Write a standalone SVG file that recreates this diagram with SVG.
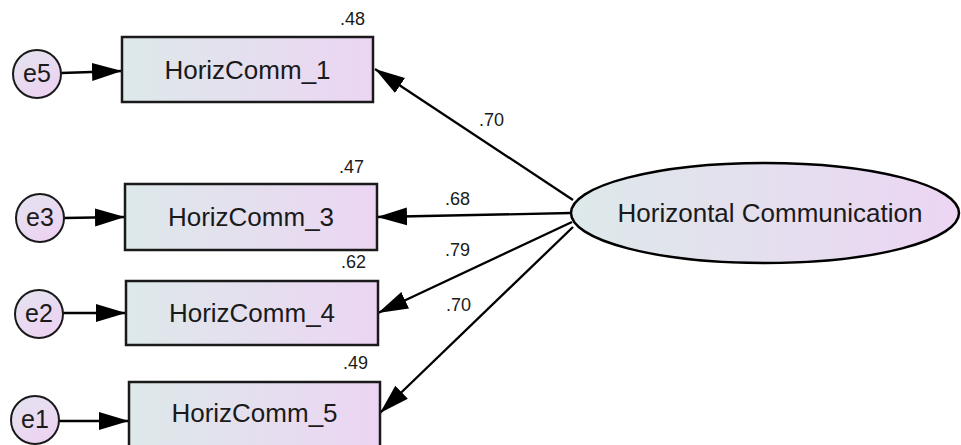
<svg xmlns="http://www.w3.org/2000/svg" width="961" height="445" viewBox="0 0 961 445">
<defs>
<linearGradient id="g" x1="0" y1="0" x2="1" y2="0">
<stop offset="0" stop-color="#dde9ea"/>
<stop offset="1" stop-color="#ecd5f3"/>
</linearGradient>
<linearGradient id="gc" x1="0" y1="0" x2="0.6" y2="1">
<stop offset="0" stop-color="#e4e4ef"/>
<stop offset="1" stop-color="#ecd3f2"/>
</linearGradient>
<marker id="ah" markerUnits="userSpaceOnUse" markerWidth="34" markerHeight="22" refX="30" refY="10" orient="auto">
<path d="M0,1 L30,10 L0,19 Z" fill="#000"/>
</marker>
<style>
.box{fill:url(#g);stroke:#1a1a1a;stroke-width:2.5}
.err{fill:url(#gc);stroke:#1a1a1a;stroke-width:2}
.lat{fill:url(#g);stroke:#000;stroke-width:2.5}
.t{font-family:"Liberation Sans",Arial,sans-serif;fill:#1a1a1a}
.big{font-size:26px;text-anchor:middle}
.e{font-size:25px;text-anchor:middle}
.n{font-size:18px}
.r{text-anchor:end}
.c line{stroke:#000;stroke-width:2.3;marker-end:url(#ah)}
</style>
</defs>
<g id="connectors" class="c">
<line x1="61" y1="73" x2="122" y2="71"/>
<line x1="64" y1="218" x2="125" y2="217"/>
<line x1="63" y1="313" x2="126" y2="313"/>
<line x1="59" y1="421" x2="129" y2="421"/>
<line x1="573" y1="200" x2="375" y2="69"/>
<line x1="571" y1="213" x2="377" y2="217"/>
<line x1="572" y1="222" x2="378" y2="313"/>
<line x1="573" y1="227" x2="380" y2="413"/>
</g>
<g id="labels-paths">
<text class="t n" x="479" y="126">.70</text>
<text class="t n" x="445" y="205">.68</text>
<text class="t n" x="445" y="256">.79</text>
<text class="t n" x="446" y="311">.70</text>
</g>
<g id="HorizComm_1">
<rect class="box" x="122" y="37" width="251" height="65"/>
<text class="t big" x="247.5" y="79">HorizComm_1</text>
<text class="t n r" x="365" y="25">.48</text>
</g>
<g id="HorizComm_3">
<rect class="box" x="125" y="184" width="252" height="66"/>
<text class="t big" x="251" y="226">HorizComm_3</text>
<text class="t n r" x="364" y="173">.47</text>
</g>
<g id="HorizComm_4">
<rect class="box" x="126" y="281" width="252" height="64"/>
<text class="t big" x="252" y="322">HorizComm_4</text>
<text class="t n r" x="366" y="268">.62</text>
</g>
<g id="HorizComm_5">
<rect class="box" x="129" y="382" width="251" height="68"/>
<text class="t big" x="254.5" y="422">HorizComm_5</text>
<text class="t n r" x="368" y="369">.49</text>
</g>
<g id="e5">
<circle class="err" cx="37" cy="74" r="24"/>
<text class="t e" x="37" y="82">e5</text>
</g>
<g id="e3">
<circle class="err" cx="40" cy="218" r="24"/>
<text class="t e" x="40" y="226">e3</text>
</g>
<g id="e2">
<circle class="err" cx="39" cy="314" r="24"/>
<text class="t e" x="39" y="322">e2</text>
</g>
<g id="e1">
<circle class="err" cx="35" cy="420" r="24"/>
<text class="t e" x="35" y="428">e1</text>
</g>
<g id="HorizontalCommunication">
<ellipse class="lat" cx="765" cy="213" rx="194" ry="50"/>
<text class="t big" x="770" y="222">Horizontal Communication</text>
</g>
</svg>
